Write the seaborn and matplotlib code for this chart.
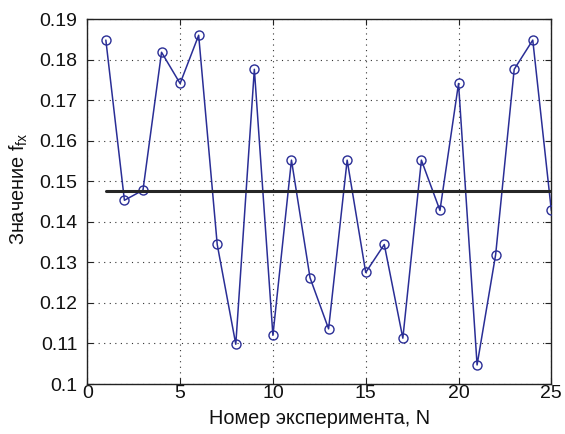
import numpy as np
import pandas as pd
import matplotlib
matplotlib.use("Agg")
import matplotlib.pyplot as plt
import seaborn as sns

# Experiment numbers and measured f_fx values
experiments = list(range(1, 26))
f_values = [0.1848, 0.1453, 0.1478, 0.1818, 0.1741, 0.1860, 0.1344, 0.1098,
            0.1776, 0.1120, 0.1552, 0.1262, 0.1136, 0.1552, 0.1275, 0.1344,
            0.1113, 0.1552, 0.1428, 0.1741, 0.1047, 0.1319, 0.1776, 0.1848,
            0.1428]
x_ticks = [0, 5, 10, 15, 20, 25]
y_ticks = [0.10, 0.11, 0.12, 0.13, 0.14, 0.15, 0.16, 0.17, 0.18, 0.19]
y_tick_labels = ["0.1", "0.11", "0.12", "0.13", "0.14", "0.15", "0.16", "0.17", "0.18", "0.19"]

sns.set_theme(style="white")
plt.rcParams["font.family"] = ["Liberation Sans", "DejaVu Sans"]
plt.rcParams["mathtext.default"] = "regular"

df = pd.DataFrame({"N": experiments, "f": f_values})
mean_value = float(np.mean(f_values))
mean_df = pd.DataFrame({"N": [experiments[0], experiments[-1]],
                        "f": [mean_value, mean_value]})

fig = plt.figure(figsize=(5.65, 4.34), dpi=100)
ax = fig.add_axes([0.1545, 0.1152, 0.8213, 0.841])

sns.lineplot(data=df, x="N", y="f", ax=ax, color="#2a2e96", linewidth=1.1,
             marker="o", markersize=6.5, markerfacecolor="none",
             markeredgecolor="#2a2e96", markeredgewidth=1.0, zorder=3)
sns.lineplot(data=mean_df, x="N", y="f", ax=ax, color="#262626",
             linewidth=2.2, zorder=4)

ax.set_xlim(0, 25)
ax.set_ylim(0.1, 0.19)
ax.set_xticks(x_ticks)
ax.set_yticks(y_ticks)
ax.set_yticklabels(y_tick_labels)
ax.tick_params(direction="in", length=4, width=0.8, labelsize=14,
               top=True, right=True, bottom=True, left=True, colors="#222222",
               labelcolor="#111111")
ax.tick_params(axis="x", pad=1)
ax.tick_params(axis="y", pad=7)
ax.grid(True, linestyle=(0, (1, 4)), color="#333333", linewidth=0.8)
for spine in ax.spines.values():
    spine.set_color("#222222")
    spine.set_linewidth(1.0)

ax.set_xlabel("Номер эксперимента, N", fontsize=14.3, color="#111111", labelpad=5)
ax.set_ylabel("Значение $f_{fx}$", fontsize=14.3, color="#111111", labelpad=4)
ax.yaxis.set_label_coords(-0.123, 0.535)

fig.savefig("out.png", dpi=100)
